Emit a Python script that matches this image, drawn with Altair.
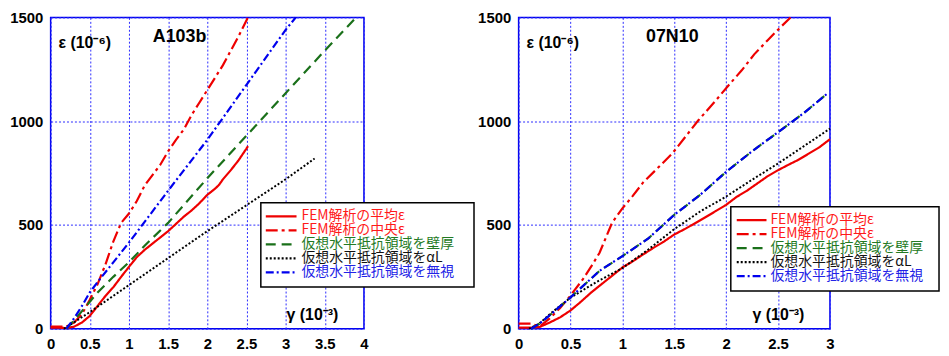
import altair as alt
import pandas as pd

series_names = ["FEM解析の平均ε", "FEM解析の中央ε", "仮想水平抵抗領域を壁厚", "仮想水平抵抗領域をαL", "仮想水平抵抗領域を無視"]
line_colors = ["#ee0000", "#ee0000", "#1a701a", "#000000", "#0000ee"]
text_colors = ["#ff1a1a", "#ff1a1a", "#237a23", "#111111", "#2222e6"]

# ---------------- Panel A103b ----------------
a_mean_x = [0, 0.1, 0.2, 0.3, 0.4, 0.5, 0.6, 0.7, 0.8, 0.9, 1.0, 1.1, 1.2, 1.3, 1.4, 1.5, 1.6, 1.7, 1.8, 1.9, 2.0, 2.1, 2.15, 2.2, 2.3, 2.4, 2.5, 2.52]
a_mean_y = [5, 5, 3, 10, 30, 62, 110, 158, 200, 250, 298, 345, 380, 410, 440, 470, 505, 540, 570, 605, 645, 675, 693, 720, 764, 812, 868, 880]
a_cent_x = [0, 0.1, 0.2, 0.3, 0.4, 0.5, 0.6, 0.7, 0.8, 0.9, 1.0, 1.1, 1.2, 1.3, 1.4, 1.5, 1.6, 1.7, 1.8, 1.9, 2.0, 2.1, 2.2, 2.3, 2.4, 2.52]
a_cent_y = [10, 10, 10, 30, 70, 140, 215, 310, 420, 510, 555, 615, 690, 740, 790, 855, 910, 960, 1030, 1090, 1150, 1210, 1270, 1340, 1410, 1500]
a_wall_x = [0.2, 0.3, 0.4, 0.5, 0.6, 0.8, 1.0, 1.2, 1.5, 2.0, 2.5, 3.0, 3.5, 3.9]
a_wall_y = [0, 40, 85, 130, 175, 250, 320, 400, 510, 725, 930, 1135, 1340, 1500]
a_al_x = [0.17, 0.5, 1.0, 1.5, 2.0, 2.5, 3.0, 3.37]
a_al_y = [0, 80, 210, 340, 470, 595, 720, 820]
a_ign_x = [0.2, 0.3, 0.4, 0.5, 0.6, 0.8, 1.0, 1.2, 1.5, 2.0, 2.5, 3.0, 3.13]
a_ign_y = [0, 50, 110, 175, 225, 320, 415, 515, 665, 910, 1175, 1440, 1500]

# ---------------- Panel 07N10 ----------------
b_mean_x = [0, 0.1, 0.2, 0.3, 0.4, 0.5, 0.6, 0.7, 0.8, 0.9, 1.0, 1.1, 1.2, 1.3, 1.4, 1.5, 1.6, 1.7, 1.8, 1.9, 2.0, 2.1, 2.2, 2.3, 2.4, 2.5, 2.6, 2.7, 2.8, 2.9, 3.0]
b_mean_y = [5, 5, 8, 30, 55, 88, 130, 175, 215, 255, 295, 325, 358, 390, 420, 454, 480, 508, 537, 567, 597, 635, 665, 700, 735, 764, 790, 815, 845, 875, 913]
b_cent_x = [0, 0.12, 0.2, 0.3, 0.4, 0.5, 0.62, 0.7, 0.78, 0.9, 1.0, 1.1, 1.2, 1.32, 1.48, 1.6, 1.73, 1.9, 2.02, 2.15, 2.27, 2.4, 2.5, 2.62]
b_cent_y = [25, 25, 10, 50, 100, 160, 239, 300, 366, 510, 580, 640, 705, 764, 844, 920, 1003, 1100, 1171, 1245, 1322, 1390, 1441, 1500]
b_wall_x = [0.12, 0.2, 0.3, 0.5, 0.78, 1.0, 1.25, 1.5, 1.75, 2.0, 2.25, 2.5, 2.75, 2.97]
b_wall_y = [0, 24, 65, 151, 279, 350, 435, 549, 645, 756, 855, 947, 1040, 1131]
b_al_x = [0.1, 0.2, 0.3, 0.5, 0.75, 1.0, 1.25, 1.5, 1.75, 2.0, 2.25, 2.5, 2.75, 3.0]
b_al_y = [0, 25, 70, 150, 225, 292, 382, 480, 565, 637, 718, 796, 880, 964]
b_ign_x = [0.12, 0.2, 0.3, 0.5, 0.78, 1.0, 1.25, 1.5, 1.75, 2.0, 2.25, 2.5, 2.75, 2.97]
b_ign_y = [0, 24, 65, 151, 279, 350, 435, 549, 645, 756, 855, 947, 1040, 1131]

dashes = [[1, 0], [12, 4, 3, 4], [10, 6], [2, 2], [8, 3, 2, 3]]
widths = [2.2, 2.2, 2.2, 2.0, 2.2]

y_ticks = [0, 500, 1000, 1500]

BOLD = "Liberation Sans"
CJK = "Noto Sans CJK JP"


def panel(data, xmax, x_ticks, w, name, name_x, leg):
    xscale = alt.Scale(domain=[0, xmax], nice=False)
    yscale = alt.Scale(domain=[0, 1500], nice=False)
    xenc = alt.X("x:Q", scale=xscale, title=None,
                 axis=alt.Axis(values=x_ticks, format="~g", grid=True))
    yenc = alt.Y("y:Q", scale=yscale, title=None,
                 axis=alt.Axis(values=y_ticks, format="d", grid=True))
    layers = []
    for i, (xs, ys) in enumerate(data):
        df = pd.DataFrame({"x": xs, "y": ys})
        layers.append(
            alt.Chart(df).mark_line(color=line_colors[i], strokeDash=dashes[i],
                                    strokeWidth=widths[i]).encode(x=xenc, y=yenc)
        )
    one = alt.Data(values=[{"a": 1}])
    # legend box
    bx0, bx1, by0, by1, sx0, sx1, tx, rows = leg
    layers.append(alt.Chart(one).mark_rect(fill="white", stroke="black", strokeWidth=1.5).encode(
        x=alt.value(bx0), x2=alt.value(bx1), y=alt.value(by0), y2=alt.value(by1)))
    for i, lab in enumerate(series_names):
        layers.append(alt.Chart(one).mark_rule(color=line_colors[i], strokeDash=dashes[i],
                                               strokeWidth=2.2).encode(
            x=alt.value(sx0), x2=alt.value(sx1), y=alt.value(rows[i])))
        layers.append(alt.Chart(one).mark_text(text=lab, align="left", baseline="middle",
                                               font=CJK, fontSize=14, color=text_colors[i]).encode(
            x=alt.value(tx), y=alt.value(rows[i])))
    # annotations
    layers.append(alt.Chart(one).mark_text(text="ε (10⁻⁶)", align="left", baseline="middle",
                                           font=BOLD, fontWeight="bold", fontSize=16).encode(
        x=alt.value(8), y=alt.value(26)))
    layers.append(alt.Chart(one).mark_text(text=name, align="center", baseline="middle",
                                           font=BOLD, fontWeight="bold", fontSize=18).encode(
        x=alt.value(name_x), y=alt.value(20)))
    layers.append(alt.Chart(one).mark_text(text="γ (10⁻³)", align="left", baseline="middle",
                                           font=BOLD, fontWeight="bold", fontSize=16).encode(
        x=alt.value(w - 78), y=alt.value(300)))
    return alt.layer(*layers).properties(width=w, height=314)


left = panel(
    [(a_mean_x, a_mean_y), (a_cent_x, a_cent_y), (a_wall_x, a_wall_y), (a_al_x, a_al_y), (a_ign_x, a_ign_y)],
    4, [0, 0.5, 1, 1.5, 2, 2.5, 3, 3.5, 4], 316, "A103b", 130,
    (212, 427, 187, 272, 217, 248, 253, [200.7, 214.8, 228.9, 243, 257.1])
)
right = panel(
    [(b_mean_x, b_mean_y), (b_cent_x, b_cent_y), (b_wall_x, b_wall_y), (b_al_x, b_al_y), (b_ign_x, b_ign_y)],
    3, [0, 0.5, 1, 1.5, 2, 2.5, 3], 314, "07N10", 155,
    (214, 424, 191, 276, 220, 250, 254, [204.5, 218.6, 232.7, 246.8, 260.9])
)

chart = alt.hconcat(left, right, spacing=156, bounds="flush").properties(
    padding={"left": 0, "top": 0, "right": 0, "bottom": 0}
).configure_view(
    stroke="#0000ee", strokeWidth=1.5
).configure_axis(
    domain=False, ticks=False, grid=True, gridColor="#2a2aff", gridDash=[2, 2], gridWidth=1,
    labelFont=BOLD, labelFontWeight="bold", labelFontSize=15, labelColor="black",
    labelPadding=8, labelFlush=False, labelOverlap=False
)

chart.save("out.html", embed_options={"renderer": "svg", "actions": False})
